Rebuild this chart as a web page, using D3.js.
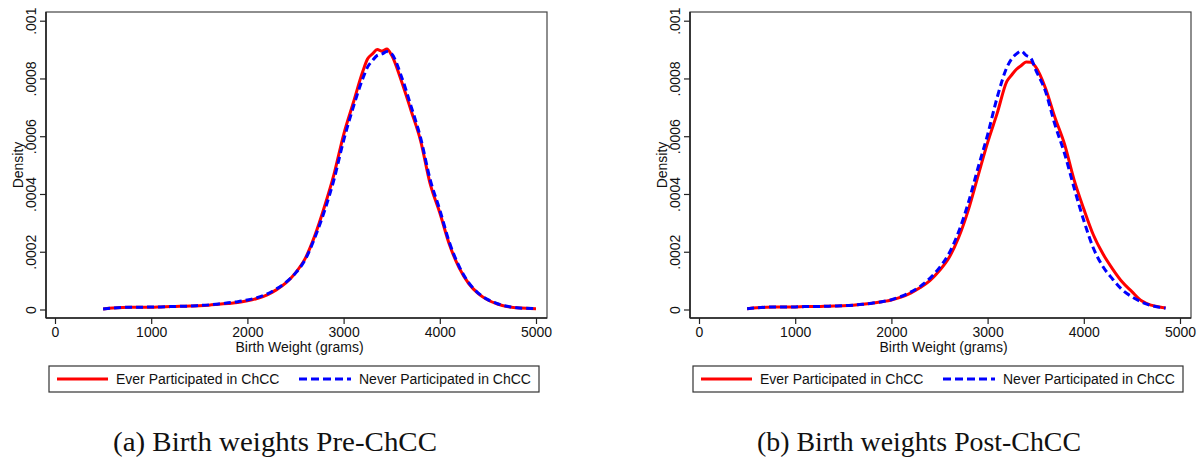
<!DOCTYPE html>
<html><head><meta charset="utf-8">
<script src="https://cdn.jsdelivr.net/npm/d3@7"></script>
<style>body{margin:0;background:#fff}svg{display:block}</style>
</head><body><svg id="c" width="1201" height="460"></svg>
<script>
// ---- data ----
const weightsPre = [500,600,700,800,900,1000,1100,1200,1300,1400,1500,1600,1700,1800,1900,2000,2100,2200,2300,2400,2500,2600,2700,2800,2900,3000,3100,3200,3250,3300,3350,3400,3450,3500,3600,3700,3800,3900,4000,4100,4200,4300,4400,4500,4600,4700,4800,4900,5000];
const preEver  = [0.000002,0.000005,0.000007,0.000008,0.000008,0.000008,0.000009,0.000010,0.000011,0.000012,0.000013,0.000015,0.000018,0.000021,0.000024,0.000030,0.000038,0.000050,0.000068,0.000092,0.000127,0.000176,0.000255,0.000355,0.000468,0.000605,0.000715,0.000825,0.000868,0.000885,0.000900,0.000895,0.000902,0.000880,0.000792,0.000690,0.000585,0.000435,0.000335,0.000225,0.000145,0.000090,0.000055,0.000033,0.000019,0.000010,0.000006,0.000004,0.000003];
const preNever = [0.000002,0.000005,0.000007,0.000008,0.000008,0.000009,0.000009,0.000010,0.000011,0.000012,0.000014,0.000016,0.000019,0.000023,0.000027,0.000033,0.000041,0.000053,0.000071,0.000094,0.000126,0.000172,0.000248,0.000340,0.000450,0.000585,0.000700,0.000800,0.000840,0.000862,0.000880,0.000885,0.000893,0.000885,0.000808,0.000705,0.000595,0.000450,0.000345,0.000232,0.000150,0.000093,0.000057,0.000034,0.000020,0.000011,0.000006,0.000004,0.000003];

const weightsPost = [500,600,700,800,900,1000,1100,1200,1300,1400,1500,1600,1700,1800,1900,2000,2100,2200,2300,2400,2500,2600,2700,2800,2900,3000,3100,3200,3250,3300,3350,3400,3450,3500,3600,3700,3800,3900,4000,4100,4200,4300,4400,4500,4600,4700,4800,4850];
const postEver  = [0.000003,0.000006,0.000008,0.000009,0.000009,0.000009,0.000010,0.000010,0.000011,0.000012,0.000013,0.000015,0.000018,0.000022,0.000027,0.000033,0.000043,0.000057,0.000076,0.000100,0.000135,0.000180,0.000250,0.000345,0.000462,0.000578,0.000680,0.000790,0.000812,0.000832,0.000845,0.000857,0.000856,0.000840,0.000768,0.000665,0.000572,0.000448,0.000348,0.000258,0.000192,0.000140,0.000095,0.000062,0.000030,0.000015,0.000008,0.000005];
const postNever = [0.000003,0.000006,0.000008,0.000009,0.000009,0.000009,0.000010,0.000010,0.000011,0.000012,0.000013,0.000015,0.000018,0.000022,0.000027,0.000034,0.000045,0.000060,0.000080,0.000108,0.000145,0.000195,0.000270,0.000370,0.000490,0.000605,0.000735,0.000838,0.000868,0.000885,0.000895,0.000880,0.000870,0.000830,0.000757,0.000640,0.000540,0.000420,0.000308,0.000212,0.000148,0.000105,0.000068,0.000044,0.000026,0.000014,0.000007,0.000005];

const xTicks = [0,1000,2000,3000,4000,5000];
const yTicks = [0,0.0002,0.0004,0.0006,0.0008,0.001];
const yTickLabels = ["0",".0002",".0004",".0006",".0008",".001"];
const seriesNames = ["Ever Participated in ChCC","Never Participated in ChCC"];
const captions = ["(a) Birth weights Pre-ChCC","(b) Birth weights Post-ChCC"];
const xTitle = "Birth Weight (grams)";
const yTitle = "Density";

// ---- drawing ----
const svg = d3.select("#c");
const FONT = "'Liberation Sans', Arial, sans-serif";
const FS = 14;
const RED = "#ff0000", BLUE = "#0000ff";

function panel(ox, weights, ever, never, caption){
  const g = svg.append("g").attr("transform", `translate(${ox},0)`);
  const frameL = 46, frameR = 547, frameT = 12, frameB = 318;
  const x = d3.scaleLinear().domain([0,5000]).range([55,536]);
  const y = d3.scaleLinear().domain([0,0.001]).range([309.5,20.7]);

  // frame
  g.append("rect").attr("x",frameL).attr("y",frameT).attr("width",frameR-frameL).attr("height",frameB-frameT)
    .attr("fill","none").attr("stroke","#444").attr("stroke-width",1.2);

  const line = d3.line().x((d,i)=>x(weights[i])).y(d=>y(d)).curve(d3.curveMonotoneX);
  g.append("path").attr("d", line(ever)).attr("fill","none").attr("stroke",RED).attr("stroke-width",3).attr("stroke-linejoin","round");
  g.append("path").attr("d", line(never)).attr("fill","none").attr("stroke",BLUE).attr("stroke-width",3).attr("stroke-dasharray","7,4");

  // x axis
  const xa = g.append("g").attr("transform",`translate(0,${frameB})`)
    .call(d3.axisBottom(x).tickValues(xTicks).tickSize(6).tickPadding(3).tickFormat(d3.format("d")));
  xa.select(".domain").attr("d",`M${frameL},0H${frameR}`).attr("stroke","#222").attr("stroke-width",1.6);
  xa.selectAll(".tick line").attr("stroke","#222").attr("stroke-width",1.2);
  xa.selectAll("text").attr("font-family",FONT).attr("font-size",FS).attr("fill","#111");

  // y axis
  const ya = g.append("g").attr("transform",`translate(${frameL},0)`)
    .call(d3.axisLeft(y).tickValues(yTicks).tickSize(6).tickFormat((d,i)=>yTickLabels[i]));
  ya.select(".domain").attr("d",`M0,${frameT}V${frameB}`).attr("stroke","#222").attr("stroke-width",1.6);
  ya.selectAll(".tick line").attr("stroke","#222").attr("stroke-width",1.2);
  ya.selectAll(".tick text").attr("x",null).attr("dy",null).attr("text-anchor","middle")
    .attr("transform","translate(-15,0) rotate(-90)").attr("dominant-baseline","central")
    .attr("font-family",FONT).attr("font-size",FS).attr("fill","#111");

  // titles
  g.append("text").attr("x",(frameL+frameR)/2+3).attr("y",352).attr("text-anchor","middle")
    .attr("font-family",FONT).attr("font-size",FS).attr("fill","#111").text(xTitle);
  g.append("text").attr("transform",`translate(18,${(frameT+frameB)/2}) rotate(-90)`).attr("text-anchor","middle")
    .attr("dominant-baseline","central").attr("font-family",FONT).attr("font-size",FS).attr("fill","#111").text(yTitle);

  // legend
  const lg = g.append("g");
  lg.append("rect").attr("x",49).attr("y",366).attr("width",490).attr("height",26)
    .attr("fill","#fff").attr("stroke","#333").attr("stroke-width",1.2);
  lg.append("line").attr("x1",57).attr("x2",108).attr("y1",379).attr("y2",379).attr("stroke",RED).attr("stroke-width",3);
  lg.append("text").attr("x",116).attr("y",384).attr("font-family",FONT).attr("font-size",FS).attr("fill","#111").text(seriesNames[0]);
  lg.append("line").attr("x1",299).attr("x2",351).attr("y1",379).attr("y2",379).attr("stroke",BLUE).attr("stroke-width",3).attr("stroke-dasharray","8,4");
  lg.append("text").attr("x",359).attr("y",384).attr("font-family",FONT).attr("font-size",FS).attr("fill","#111").text(seriesNames[1]);

  // caption
  g.append("text").attr("x",275).attr("y",451).attr("text-anchor","middle")
    .attr("font-family","'Liberation Serif', 'Times New Roman', serif").attr("font-size",27)
    .attr("textLength",324).attr("lengthAdjust","spacingAndGlyphs").attr("fill","#111").text(caption);
}

panel(0, weightsPre, preEver, preNever, captions[0]);
panel(644, weightsPost, postEver, postNever, captions[1]);
</script>
</body></html>
